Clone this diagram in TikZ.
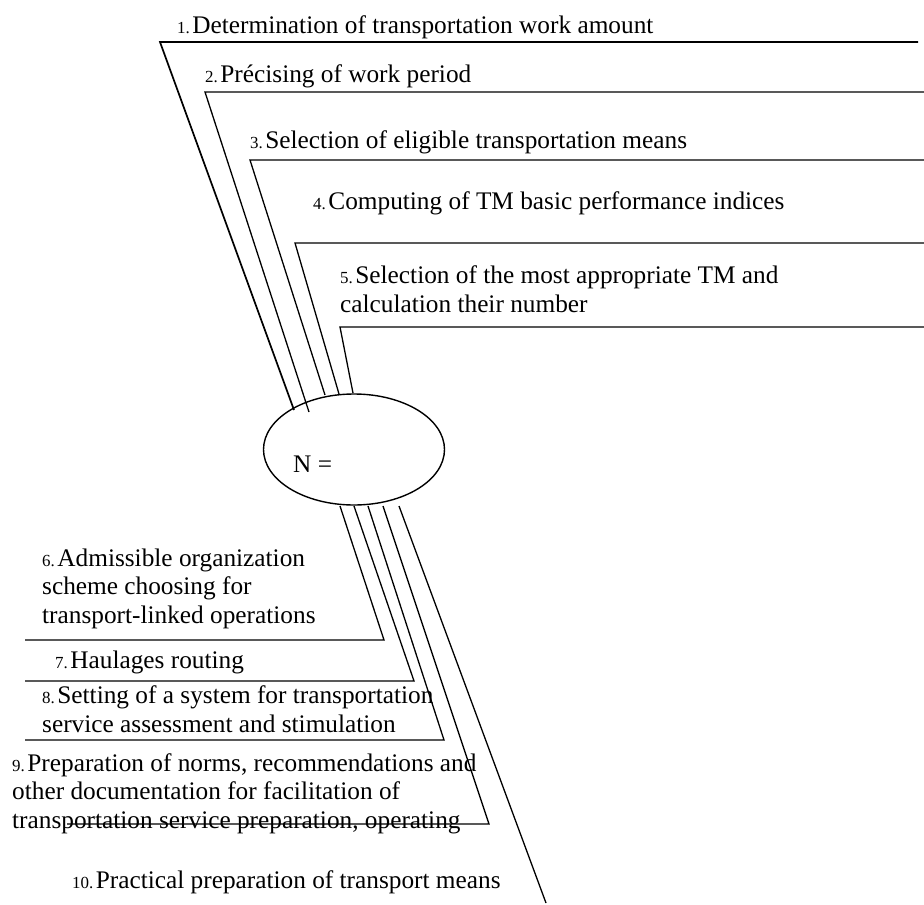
\documentclass[tikz,border=0pt]{standalone}
\usepackage{fontspec}
\setmainfont{Liberation Serif}
\usetikzlibrary{shapes.geometric}
\newcommand{\itemnum}[1]{{\fontsize{17}{20}\selectfont #1.\hspace{2.5bp}}}
\begin{document}
\begin{tikzpicture}[x=1bp,y=-1bp,
  txt/.style={inner sep=0pt, anchor=base west, align=left, font=\fontsize{25.4}{28.5}\selectfont},
  link/.style={draw=black, line width=1.3bp, line join=miter},
  oval/.style={draw=black, line width=1.4bp, ellipse, inner sep=0pt, minimum width=181bp, minimum height=111bp}]
\useasboundingbox (0,0) rectangle (924,905);
% ellipse
\node[oval] (N) at (354,449.5) {};
\node[txt] (Nlbl) at (293,472) {N =};
% top branches
\coordinate (r1) at (918,42);  \coordinate (c1) at (160,42);  \coordinate (e1) at (294,410);
\coordinate (r2) at (924,92);  \coordinate (c2) at (205,92);  \coordinate (e2) at (309,412);
\coordinate (r3) at (924,160); \coordinate (c3) at (250,160); \coordinate (e3) at (325,395);
\coordinate (r4) at (924,243); \coordinate (c4) at (295,243); \coordinate (e4) at (339,394);
\coordinate (r5) at (924,327); \coordinate (c5) at (340,327); \coordinate (e5) at (353,393);
\draw[link, line width=1.7bp] (r1) -- (c1) -- (e1);
\draw[link] (r2) -- (c2) -- (e2);
\draw[link] (r3) -- (c3) -- (e3);
\draw[link] (r4) -- (c4) -- (e4);
\draw[link] (r5) -- (c5) -- (e5);
% bottom branches
\coordinate (s6) at (340,506); \coordinate (d6) at (384,640); \coordinate (l6) at (25,640);
\coordinate (s7) at (354,506); \coordinate (d7) at (414,681); \coordinate (l7) at (25,681);
\coordinate (s8) at (368,506); \coordinate (d8) at (444,740); \coordinate (l8) at (25,740);
\coordinate (s9) at (383,506); \coordinate (d9) at (489,824); \coordinate (l9) at (67,824);
\coordinate (s10) at (399,506); \coordinate (d10) at (546,903);
\draw[link] (s6) -- (d6) -- (l6);
\draw[link] (s7) -- (d7) -- (l7);
\draw[link] (s8) -- (d8) -- (l8);
\draw[link] (s9) -- (d9) -- (l9);
\draw[link] (s10) -- (d10);
% texts (anchor = baseline of the last line)
\node[txt] (t1) at (177,33) {\itemnum{1}Determination of transportation work amount};
\node[txt] (t2) at (205,82) {\itemnum{2}Précising of work period};
\node[txt] (t3) at (250,148) {\itemnum{3}Selection of eligible transportation means};
\node[txt] (t4) at (313,209) {\itemnum{4}Computing of TM basic performance indices};
\node[txt] (t5) at (340,312) {\itemnum{5}Selection of the most appropriate TM and\\calculation their number};
\node[txt] (t6) at (42,623) {\itemnum{6}Admissible organization\\scheme choosing for\\transport-linked operations};
\node[txt] (t7) at (55,668) {\itemnum{7}Haulages routing};
\node[txt] (t8) at (42,732) {\itemnum{8}Setting of a system for transportation\\service assessment and stimulation};
\node[txt] (t9) at (12,828) {\itemnum{9}Preparation of norms, recommendations and\\other documentation for facilitation of\\transportation service preparation, operating};
\node[txt] (t10) at (72,888) {\itemnum{10}Practical preparation of transport means};
\end{tikzpicture}
\end{document}
